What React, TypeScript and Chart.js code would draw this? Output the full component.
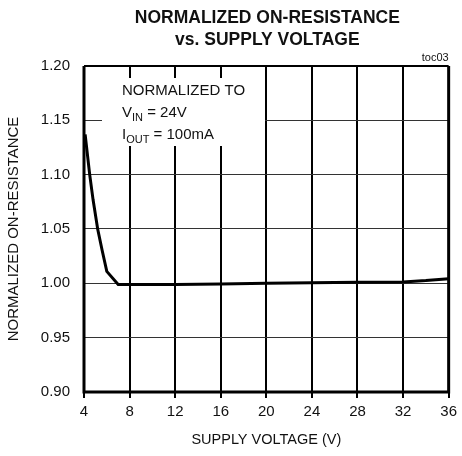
import React, { useEffect, useRef } from "react";
import { Chart, registerables } from "chart.js";

Chart.register(...registerables);

const titleLines = ["NORMALIZED ON-RESISTANCE", "vs. SUPPLY VOLTAGE"];
const xTitle = "SUPPLY VOLTAGE (V)";
const yTitle = "NORMALIZED ON-RESISTANCE";
const figureTag = "toc03";

const supplyVoltage = [4.1, 4.5, 4.8, 5.2, 5.6, 6.0, 7.0, 8, 12, 16, 20, 24, 28, 32, 34, 36];
const onResistance = [1.137, 1.1, 1.0766, 1.05, 1.03, 1.011, 0.999, 0.999, 0.999, 0.9995, 1.0, 1.0005, 1.001, 1.0013, 1.0025, 1.0043];

const xMin = 4;
const xMax = 36;
const xStep = 4;
const yMin = 0.9;
const yMax = 1.2;
const yStep = 0.05;

const FONT = '"Liberation Sans", Arial, sans-serif';

const overlayPlugin = {
  id: "overlay",
  beforeDatasetsDraw(chart: any) {
    const ctx = chart.ctx;
    ctx.save();
    ctx.fillStyle = "#ffffff";
    ctx.fillRect(102, 78, 163, 68);
    ctx.fillStyle = "#111";
    ctx.textAlign = "left";
    ctx.textBaseline = "alphabetic";
    const big = `15px ${FONT}`;
    const small = `11px ${FONT}`;
    let x = 122;
    ctx.font = big;
    ctx.fillText("NORMALIZED TO", x, 94.5);
    // line 2
    x = 122;
    ctx.fillText("V", x, 117);
    x += ctx.measureText("V").width;
    ctx.font = small;
    ctx.fillText("IN", x, 121);
    x += ctx.measureText("IN").width;
    ctx.font = big;
    ctx.fillText(" = 24V", x, 117);
    // line 3
    x = 122;
    ctx.fillText("I", x, 138.5);
    x += ctx.measureText("I").width;
    ctx.font = small;
    ctx.fillText("OUT", x, 142.5);
    x += ctx.measureText("OUT").width;
    ctx.font = big;
    ctx.fillText(" = 100mA", x, 138.5);
    ctx.restore();
  },
  afterDraw(chart: any) {
    const ctx = chart.ctx;
    const a = chart.chartArea;
    ctx.save();
    ctx.strokeStyle = "#000";
    ctx.lineWidth = 3;
    ctx.beginPath();
    ctx.moveTo(a.left, a.top);
    ctx.lineTo(a.left, a.bottom);
    ctx.lineTo(a.right, a.bottom);
    ctx.lineTo(a.right, a.top);
    ctx.stroke();
    ctx.lineWidth = 2;
    ctx.beginPath();
    ctx.moveTo(a.left, a.top);
    ctx.lineTo(a.right, a.top);
    ctx.stroke();
    // titles
    ctx.fillStyle = "#111";
    ctx.textAlign = "center";
    ctx.textBaseline = "middle";
    ctx.font = `bold 17.5px ${FONT}`;
    const cx = (a.left + a.right) / 2 + 1;
    ctx.fillText(titleLines[0], cx, 18.5);
    ctx.fillText(titleLines[1], cx, 40);
    ctx.font = `11px ${FONT}`;
    ctx.textAlign = "right";
    ctx.fillText(figureTag, a.right, 58);
    ctx.restore();
  },
};

export default function App() {
  const ref = useRef<HTMLCanvasElement>(null);
  useEffect(() => {
    if (!ref.current) return;
    const chart = new Chart(ref.current, {
      type: "line",
      data: {
        datasets: [
          {
            data: supplyVoltage.map((v, i) => ({ x: v, y: onResistance[i] })),
            borderColor: "#000",
            borderWidth: 3,
            pointRadius: 0,
            tension: 0,
            fill: false,
          },
        ],
      },
      options: {
        responsive: false,
        animation: false,
        devicePixelRatio: 1,
        layout: { padding: { top: 66, right: 9, left: 0, bottom: 0 } },
        plugins: { legend: { display: false }, tooltip: { enabled: false }, title: { display: false } },
        scales: {
          x: {
            type: "linear",
            min: xMin,
            max: xMax,
            afterFit: (s: any) => {
              s.height = 64;
            },
            ticks: {
              stepSize: xStep,
              color: "#111",
              padding: 5,
              font: { family: FONT, size: 15 },
              maxRotation: 0,
            },
            grid: { color: "#000", lineWidth: 2, tickLength: 6, drawTicks: true },
            border: { display: false },
            title: {
              display: true,
              text: xTitle,
              color: "#111",
              font: { family: FONT, size: 14.5 },
              padding: { top: 4, bottom: 7 },
            },
          },
          y: {
            type: "linear",
            min: yMin,
            max: yMax,
            afterFit: (s: any) => {
              s.width = 84;
            },
            ticks: {
              stepSize: yStep,
              color: "#111",
              padding: 14,
              font: { family: FONT, size: 15 },
              callback: (v: any) => Number(v).toFixed(2),
            },
            grid: { color: "#333", lineWidth: 1, drawTicks: false },
            border: { display: false },
            title: {
              display: true,
              text: yTitle,
              color: "#111",
              font: { family: FONT, size: 15 },
              padding: { top: 5, bottom: 0 },
            },
          },
        },
      },
      plugins: [overlayPlugin],
    });
    return () => chart.destroy();
  }, []);
  return (
    <div style={{ position: "fixed", left: 0, top: 0, width: 462, height: 456, background: "#fff" }}>
      <canvas ref={ref} width={462} height={456} />
    </div>
  );
}
